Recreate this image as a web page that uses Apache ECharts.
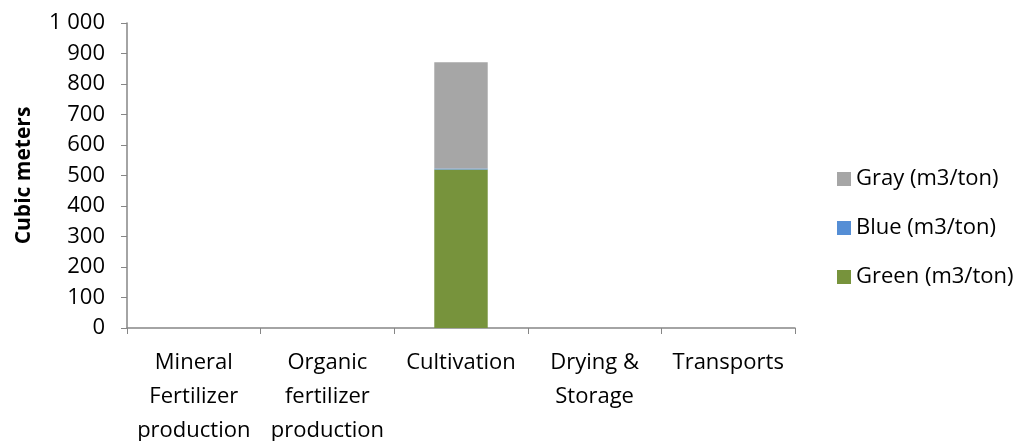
<!DOCTYPE html>
<html><head><meta charset="utf-8">
<script src="https://cdn.jsdelivr.net/npm/echarts@6/dist/echarts.min.js"></script>
<style>html,body{margin:0;padding:0;background:#fff}#c{width:1027px;height:441px}</style>
</head><body><div id="c"></div>
<script>
const categories = ["Mineral\nFertilizer\nproduction", "Organic\nfertilizer\nproduction", "Cultivation", "Drying &\nStorage", "Transports"];
const green = [0, 0, 520, 0, 0];
const blue = [0, 0, 3, 0, 0];
const gray = [0, 0, 348, 0, 0];
const seriesNames = ["Green (m3/ton)", "Blue (m3/ton)", "Gray (m3/ton)"];
const yTicks = [0, 100, 200, 300, 400, 500, 600, 700, 800, 900, 1000];

const font = "'Open Sans', 'Liberation Sans', sans-serif";
const chart = echarts.init(document.getElementById('c'));
chart.setOption({
  animation: false,
  textStyle: {fontFamily: font},
  grid: {left: 127, right: 232, top: 23, bottom: 113, containLabel: false, outerBoundsMode: 'none'},
  legend: {
    orient: 'vertical', left: 832, top: 163, itemGap: 27,
    itemWidth: 14, itemHeight: 14, icon: 'rect',
    data: [seriesNames[2], seriesNames[1], seriesNames[0]],
    textStyle: {fontFamily: font, fontSize: 22, color: '#000', padding: [0, 0, 0, 0]}
  },
  xAxis: {
    type: 'category', data: categories,
    axisLine: {lineStyle: {color: '#868686', width: 1.5}},
    axisTick: {show: true, length: 6, lineStyle: {color: '#868686'}, alignWithLabel: false},
    axisLabel: {fontFamily: font, fontSize: 22, color: '#000', margin: 18, lineHeight: 34, interval: 0}
  },
  yAxis: {
    type: 'value', min: 0, max: 1000, interval: 100,
    name: 'Cubic meters', nameLocation: 'middle', nameGap: 92, nameRotate: 90,
    nameTextStyle: {fontFamily: font, fontSize: 21, fontWeight: 'bold', color: '#000'},
    splitLine: {show: false},
    axisLine: {show: true, lineStyle: {color: '#868686', width: 1.5}},
    axisTick: {show: true, length: 6, lineStyle: {color: '#868686'}},
    axisLabel: {fontFamily: font, fontSize: 22, color: '#000', margin: 22,
      formatter: v => yTicks.includes(v) ? String(v).replace(/\B(?=(\d{3})+(?!\d))/g, ' ') : ''}
  },
  series: [
    {name: seriesNames[0], type: 'bar', stack: 't', data: green, barWidth: '40%', itemStyle: {color: '#77933c'}},
    {name: seriesNames[1], type: 'bar', stack: 't', data: blue, barWidth: '40%', itemStyle: {color: '#558ed5'}},
    {name: seriesNames[2], type: 'bar', stack: 't', data: gray, barWidth: '40%', itemStyle: {color: '#a6a6a6'}}
  ]
});
</script></body></html>
